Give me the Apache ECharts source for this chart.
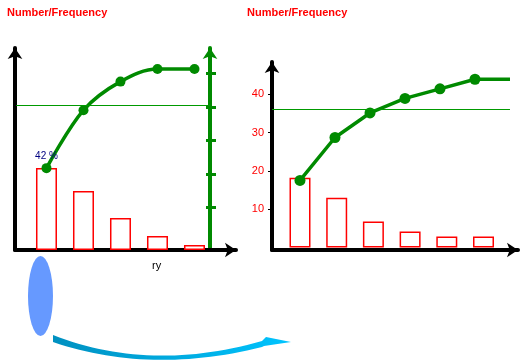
<!DOCTYPE html>
<html>
<head>
<meta charset="utf-8">
<script src="https://cdn.jsdelivr.net/npm/echarts@6/dist/echarts.min.js"></script>
<style>html,body{margin:0;padding:0;background:#fff}#c{width:529px;height:360px}</style>
</head>
<body>
<div id="c"></div>
<script>
// ---- data ----
const titleText = 'Number/Frequency';
const leftBars = [20.5, 14.75, 8, 3.5, 1.25];        // left chart bar heights
const leftCumPct = [43.5, 78, 95, 102.5, 102.5];      // left chart cumulative % line
const leftPctTicks = [20, 40, 60, 80, 100];           // green % axis tick values
const leftRefPct = 80.8;                              // green reference line
const leftFirstLabel = '42 %';
const rightBars = [18.2, 13, 6.8, 4.2, 2.9, 2.9];     // right chart bar heights
const rightLine = [17.5, 28.7, 35.1, 38.9, 41.4, 43.9, 43.9]; // right chart line
const rightTicks = [10, 20, 30, 40];                  // right chart y tick labels
const rightRef = 36.0;                                // right reference line
const axisCaption = 'ry';

const GREEN = '#008a00';
const REFGREEN = '#009a00';
const FONT = 'Liberation Sans';

const chart = echarts.init(document.getElementById('c'), null, {renderer: 'canvas'});

function blackAxisLine() {
  return {show: true, onZero: false, symbol: ['none', 'arrow'], symbolSize: [11, 11],
          lineStyle: {color: '#000', width: 4}};
}
const hidden = {axisTick: {show: false}, axisLabel: {show: false}, splitLine: {show: false}};

// swoosh polygon (decoration)
function quad(p0, c, p2, n) {
  const pts = [];
  for (let i = 0; i <= n; i++) {
    const t = i / n, a = (1 - t) * (1 - t), b = 2 * (1 - t) * t, d = t * t;
    pts.push([a * p0[0] + b * c[0] + d * p2[0], a * p0[1] + b * c[1] + d * p2[1]]);
  }
  return pts;
}
const swoosh = [].concat(
  quad([53, 335], [150, 373], [262, 341], 30),
  [[266, 337], [291, 342], [264, 346]],
  quad([262, 347], [150, 375], [53, 342], 30)
);

const option = {
  animation: false,
  title: [
    {text: titleText, left: 7, top: 7, padding: 0,
     textStyle: {color: '#ff0000', fontSize: 11, fontWeight: 'bold', fontFamily: FONT}},
    {text: titleText, left: 247, top: 7, padding: 0,
     textStyle: {color: '#ff0000', fontSize: 11, fontWeight: 'bold', fontFamily: FONT}}
  ],
  grid: [
    {left: 15, top: 48, width: 221, height: 202},
    {left: 272, top: 62, width: 246, height: 188}
  ],
  xAxis: [
    Object.assign({type: 'value', gridIndex: 0, min: -0.851, max: 5.122, axisLine: blackAxisLine()}, hidden),
    Object.assign({type: 'value', gridIndex: 1, min: -0.763, max: 5.94, axisLine: blackAxisLine()}, hidden),
    Object.assign({type: 'value', gridIndex: 1, min: -0.8, max: 6.229, show: false, axisLine: {show: false, onZero: false}}, hidden)
  ],
  yAxis: [
    Object.assign({type: 'value', gridIndex: 0, position: 'left', min: 0, max: 50.5, axisLine: blackAxisLine()}, hidden),
    Object.assign({type: 'value', gridIndex: 0, position: 'right', offset: -26, min: -5.2, max: 115,
      axisLine: {show: true, onZero: false, symbol: ['none', 'arrow'], symbolSize: [11, 11], lineStyle: {color: GREEN, width: 4}}}, hidden),
    {type: 'value', gridIndex: 0, position: 'right', offset: -30, min: -5.2, max: 115,
      axisLine: {show: false, onZero: false}, splitLine: {show: false}, axisLabel: {show: false},
      axisTick: {show: true, inside: false, length: 10, customValues: leftPctTicks, lineStyle: {color: GREEN, width: 3}}},
    {type: 'value', gridIndex: 1, position: 'left', min: -0.65, max: 48.4, axisLine: blackAxisLine(),
      splitLine: {show: false},
      axisTick: {show: true, length: 4, customValues: rightTicks, lineStyle: {color: '#000', width: 1}},
      axisLabel: {show: true, customValues: rightTicks, margin: 8, color: '#ff0000', fontSize: 11, fontFamily: FONT}}
  ],
  series: [
    {type: 'bar', xAxisIndex: 0, yAxisIndex: 0, barWidth: 21,
     data: leftBars.map((v, i) => [i, v]),
     itemStyle: {color: '#fff', borderColor: '#ff0000', borderWidth: 1.5}, z: 2},
    {type: 'line', xAxisIndex: 0, yAxisIndex: 1, smooth: 0.35,
     data: leftCumPct.map((v, i) => {
       const item = {value: [i, v]};
       if (i === 0) item.label = {show: true, formatter: leftFirstLabel, position: 'top', distance: 2, offset: [0, 0],
         color: '#000080', fontSize: 10, fontFamily: FONT};
       return item;
     }),
     symbol: 'circle', symbolSize: 10, lineStyle: {color: GREEN, width: 3.5}, itemStyle: {color: GREEN}, z: 3,
     markLine: {silent: true, symbol: 'none', label: {show: false},
       lineStyle: {color: REFGREEN, width: 1, type: 'solid', opacity: 1},
       emphasis: {disabled: true},
       data: [[{coord: [-0.82, leftRefPct]}, {coord: [4.42, leftRefPct]}]]}},
    {type: 'bar', xAxisIndex: 1, yAxisIndex: 3, barWidth: 21,
     data: rightBars.map((v, i) => [i, v]),
     itemStyle: {color: '#fff', borderColor: '#ff0000', borderWidth: 1.5}, z: 2},
    {type: 'line', xAxisIndex: 2, yAxisIndex: 3,
     data: rightLine.map((v, i) => i === rightLine.length - 1 ? {value: [i, v], symbol: 'none'} : [i, v]),
     symbol: 'circle', symbolSize: 11, lineStyle: {color: GREEN, width: 3.5}, itemStyle: {color: GREEN}, z: 3,
     markLine: {silent: true, symbol: 'none', label: {show: false},
       lineStyle: {color: REFGREEN, width: 1, type: 'solid', opacity: 1},
       emphasis: {disabled: true},
       data: [[{coord: [-0.8, rightRef]}, {coord: [6, rightRef]}]]}}
  ],
  graphic: [
    {type: 'text', left: 152, top: 260, style: {text: axisCaption, fill: '#000', font: '11px ' + FONT}},
    {type: 'circle', x: 40.5, y: 296, scaleX: 12.5 / 40, shape: {cx: 0, cy: 0, r: 40}, style: {fill: '#6699ff'}},
    {type: 'polygon', shape: {points: swoosh},
     style: {fill: {type: 'linear', x: 0, y: 0, x2: 1, y2: 0,
       colorStops: [{offset: 0, color: '#0090c0'}, {offset: 1, color: '#00c4ff'}]}}}
  ]
};
chart.setOption(option);
</script>
</body>
</html>
